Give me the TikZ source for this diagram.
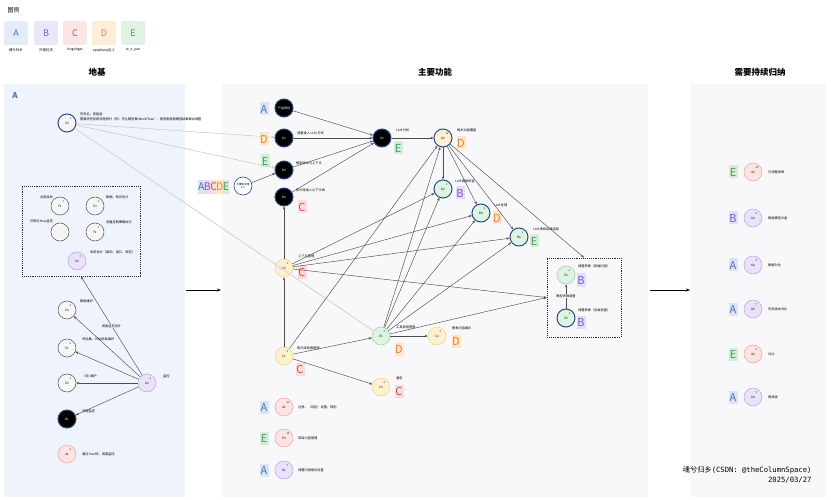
\documentclass[tikz,border=0pt]{standalone}
\usepackage{fontspec}
\setmainfont{Noto Sans CJK SC}
\setmonofont{DejaVu Sans Mono}
\newfontfamily\cjk{Noto Sans CJK SC}
\usepackage{tikz}
\usetikzlibrary{positioning, arrows.meta}
\definecolor{PanelBlue}{HTML}{EEF3FC}
\definecolor{PanelGray}{HTML}{F8F8FA}
\definecolor{HiBlue}{HTML}{2E4A86}
\definecolor{TagA}{HTML}{4A72C0}
\definecolor{TagABg}{HTML}{D9E4F7}
\definecolor{TagB}{HTML}{7A5BC8}
\definecolor{TagBBg}{HTML}{E3DDF8}
\definecolor{TagC}{HTML}{C94F4F}
\definecolor{TagCBg}{HTML}{FADCDC}
\definecolor{TagD}{HTML}{E0883A}
\definecolor{TagDBg}{HTML}{FDE5C8}
\definecolor{TagE}{HTML}{4C9A5E}
\definecolor{TagEBg}{HTML}{D3EDD8}
\definecolor{NdPink}{HTML}{FDE3E1}
\definecolor{NdPinkLine}{HTML}{F0A5A3}
\definecolor{NdPurple}{HTML}{E9E2FA}
\definecolor{NdPurpleLine}{HTML}{B7A5EA}
\definecolor{NdYellow}{HTML}{FFF1CF}
\definecolor{NdYellowLine}{HTML}{F2D38C}
\definecolor{NdGreen}{HTML}{DEF4E3}
\definecolor{NdGreenLine}{HTML}{98D1A5}
\definecolor{NdWhite}{HTML}{F6F6F6}
\definecolor{NdWhiteLine}{HTML}{555555}

\begin{document}
\begin{tikzpicture}[x=1pt, y=-1pt,
      nd/.style={circle, minimum size=18pt, inner sep=0pt, line width=0.5pt,
                 font=\fontsize{3}{3.5}\selectfont, align=center},
      cnode/.style={nd, fill=Nd#1, draw=Nd#1Line},
      bk/.style={nd, fill=black, draw=HiBlue, line width=1pt, text=white},
      hl/.style={draw=HiBlue, line width=1pt},
      num/.style={label={[font=\fontsize{2.5}{3}\selectfont, inner sep=0pt,
                 label distance=-5.5pt]50:#1}},
      tag/.style={rectangle, inner sep=0pt, minimum width=9pt, minimum height=13pt,
                  font=\fontsize{11}{11}\selectfont, fill=Tag#1Bg, text=Tag#1},
      legbox/.style={rectangle, rounded corners=2pt, minimum size=24pt,
                     font=\fontsize{9}{9}\selectfont},
      txt/.style={font=\fontsize{3.2}{3.8}\selectfont, anchor=west, inner sep=0pt},
      elab/.style={font=\fontsize{3.2}{3.8}\selectfont, inner sep=0.5pt, fill=PanelBlue},
      title/.style={font=\fontsize{8.5}{10}\selectfont\bfseries},
      dashbox/.style={rectangle, draw=black!85, densely dotted, line width=0.9pt},
      arr/.style={-{Stealth[length=3pt, width=2.4pt]}, draw=black!70, line width=0.45pt},
      farr/.style={-{Stealth[length=3pt, width=2.4pt]}, draw=gray!45, line width=0.5pt}
    ]
    \useasboundingbox (0,0) rectangle (831,500);

    % legend
    \node[font=\fontsize{6}{7}\selectfont, anchor=west] (legtitle) at (4,10) {图例};
    \foreach \ltr/\x/\who in {A/16/魂兮归乡, B/46/贝格拉夫, C/75/dogdogw,
                              D/104/epiphany巨人, E/133/w\_x\_yao}{
      \node[legbox, fill=Tag\ltr Bg!70, text=Tag\ltr] (leg\ltr) at (\x,33) {\ltr};
      \node[font=\fontsize{3.5}{4}\selectfont] (legname\ltr) at (\x,50) {\who};
    }

    % panels
    \fill[PanelBlue]  (4,84)   rectangle (185,497);
    \fill[PanelGray]  (222,84) rectangle (648,497);
    \fill[PanelGray]  (690,84) rectangle (826,497);
    \node[title] (tbase) at (97,72)  {地基};
    \node[title] (tmain) at (435,72) {主要功能};
    \node[title] (tmore) at (760,72) {需要持续归纳};
    \node[text=TagA, font=\fontsize{8}{8}\selectfont\bfseries] (pA) at (15,96) {A};

    \coordinate (lpr) at (186,290);
    \coordinate (mpl) at (221,290);
    \coordinate (mpr) at (650,290);
    \coordinate (rpl) at (690,290);
    \draw[-{Stealth[length=4pt]}, line width=0.6pt] (lpr) -- (mpl);
    \draw[-{Stealth[length=4pt]}, line width=0.6pt] (mpr) -- (rpl);

    % left panel
    \node[cnode=White, hl, num=1] (e3top) at (67,123) {E3};
    \node[txt] (te3top)  at (80,114) {任务名、技能组};
    \node[txt] (te3top2) at (80,119) {需要将任务按流程拆分（例：先让模型做 WorkFlow），使用者根据模型结果做出调整};

    \node[dashbox, minimum width=118pt, minimum height=90pt] (infra) at (81,231) {};
    \node[cnode=White, num=7] (f1)  at (60,206) {F1};
    \node[txt, anchor=east]   (tf1) at (53,197) {业务目标};
    \node[cnode=White, num=2] (e3b) at (95,206) {E3};
    \node[txt]                (te3b) at (106,197) {数据、知识设计};
    \node[cnode=White]        (blank) at (60,232) {};
    \node[txt, anchor=east]   (tblank) at (53,221) {可视化 Nuo监控};
    \node[cnode=White, num=2] (f2)  at (95,232) {F2};
    \node[txt]                (tf2) at (106,222) {流量控制策略执行};
    \node[cnode=Purple, num=7] (g3) at (77,261) {G3};
    \node[txt]                (tg3) at (90,252) {系统设计（架构、接口、规范）};

    \node[cnode=White, num=2] (e4)  at (67,310) {E4};
    \node[txt]                (te4) at (80,301) {数据维护};
    \node[cnode=White, num=2] (e1l) at (67,348) {E1};
    \node[txt]                (te1l) at (82,339) {评估集、评估标准维护};
    \node[cnode=White, num=2] (e2)  at (67,383) {E2};
    \node[txt]                (te2) at (84,376) {(日) 维护};
    \node[bk, num=4]          (b1)  at (67,419) {B1};
    \node[txt]                (tb1) at (82,411) {问题监控};
    \node[cnode=Pink, num=2]  (a1l) at (67,454) {A1};
    \node[txt]                (ta1l) at (82,454) {通过 low 码、调度监控};
    \node[cnode=Purple, num=2] (g2) at (147,383) {G2};
    \node[txt]                (tg2) at (163,376) {监控};

    \foreach \t in {e4,e1l,e2,b1}
      \draw[arr] (g2) -- (\t);
    \draw[arr] (g2) -- node[elab] (lbinfra) {调度监控设计} (infra.south);

    % main panel
    \node[bk]          (plan) at (284,108) {产品规划};
    \node[tag=A]       (tplan) at (264,109) {A};
    \node[bk, num=2]   (k3)   at (284,138) {K3};
    \node[tag=D]       (tk3)  at (264,139) {D};
    \node[txt]         (xk3)  at (297,133) {调整接入 LLM 方式};
    \node[bk, num=4]   (b4k)  at (284,170) {B4};
    \node[tag=E]       (tb4k) at (265,161) {E};
    \node[txt]         (xb4k) at (296,163) {模型版本与上下文};
    \node[bk, num=2]   (b6k)  at (284,197) {B6};
    \node[tag=C]       (tb6k) at (302,207) {C};
    \node[txt]         (xb6k) at (296,190) {知识库接入以下文档};

    \foreach \ltr [count=\i] in {A,B,C,D,E}
      \node[tag=\ltr, minimum width=6pt, minimum height=14pt, font=\fontsize{10.5}{10.5}\selectfont]
            (abc\i) at (195+6.2*\i,187) {\ltr};
    \node[nd, fill=white, draw=HiBlue, line width=0.6pt, font=\fontsize{2.6}{3}\selectfont]
          (app) at (243,186) {大模型应用\\2.1};

    \node[bk, num=4]   (k2)   at (382,138) {K2};
    \node[tag=E]       (tk2)  at (398,148) {E};
    \node[txt]         (xk2)  at (396,130) {LLM 分析};
    \node[cnode=Yellow, hl, num=12] (d0) at (443,138) {D0};
    \node[tag=D]       (td0)  at (461,143) {D};
    \node[txt]         (xd0)  at (457,130) {相关功能覆盖};
    \node[cnode=Green, hl, num=2] (d2)  at (443,189) {D2};
    \node[tag=B]       (td2)  at (460,193) {B};
    \node[txt]         (xd2)  at (455,181) {LLM 辅助检查};
    \node[cnode=Green, hl, num=2] (b4g) at (481,213) {B4};
    \node[tag=D]       (tb4g) at (497,218) {D};
    \node[txt]         (xb4g) at (494,205) {LLM 处理};
    \node[cnode=Green, hl, num=2] (b6g) at (519,237) {B6};
    \node[tag=E]       (tb6g) at (534,241) {E};
    \node[txt]         (xb6g) at (533,229) {LLM 审核结果返回};

    \node[cnode=Yellow, num=2] (c2)  at (284,268) {C2};
    \node[tag=C]       (tc2)  at (302,272) {C};
    \node[txt]         (xc2)  at (298,256) {上下文管理};
    \node[cnode=Yellow, num=2] (c1)  at (284,356) {C1};
    \node[tag=C]       (tc1)  at (300,369) {C};
    \node[txt]         (xc1)  at (297,348) {知识库检索管理};
    \node[cnode=Green, num=2]  (e1)  at (381,336) {E1};
    \node[tag=D]       (te1)  at (399,349) {D};
    \node[txt]         (xe1)  at (396,327) {工具调用管理};
    \node[cnode=Yellow, num=2] (c2b) at (437,336) {C2};
    \node[tag=D]       (tc2b) at (456,341) {D};
    \node[txt]         (xc2b) at (452,328) {图表内容展示};
    \node[cnode=Yellow, num=2] (c3)  at (381,387) {C3};
    \node[tag=C]       (tc3)  at (399,391) {C};
    \node[txt]         (xc3)  at (396,378) {通告};

    \node[cnode=Pink, num=12]  (a1m) at (284,407) {A1};
    \node[tag=A]       (ta1m) at (264,407) {A};
    \node[txt]         (xa1m) at (298,407) {注意、（设定）设置、规则};
    \node[cnode=Pink, num=12]  (e3m) at (284,438) {E3};
    \node[tag=E]       (te3m) at (264,438) {E};
    \node[txt]         (xe3m) at (298,438) {项目内容管理};
    \node[cnode=Purple, num=7] (g1)  at (284,470) {G1};
    \node[tag=A]       (tg1)  at (264,470) {A};
    \node[txt]         (xg1)  at (298,470) {调整内容格式设置};

    \node[dashbox, minimum width=74pt, minimum height=79pt, fill=PanelGray] (tune) at (584,297.5) {};
    \node[cnode=Green, num=2]     (e3r1) at (566,275) {E3};
    \node[tag=B]       (te3r1) at (581,280) {B};
    \node[txt]         (xe3r1) at (578,266) {调整参数（前端内容）};
    \node[cnode=Green, hl, num=2] (e3r2) at (566,318) {E3};
    \node[tag=B]       (te3r2) at (581,322) {B};
    \node[txt]         (xe3r2) at (578,310) {调整参数（后端设置）};
    \draw[arr] (e3r2) -- node[elab, fill=PanelGray] (lbtune) {模型参数调整} (e3r1);

    \draw[farr] (e3top) -- (k3);
    \draw[farr] (e3top) -- (b4k);
    \draw[farr, draw=gray!30, line width=1pt] (e3top) -- (e1);

    \foreach \s in {plan,k3,b4k,b6k}
      \draw[arr] (\s) -- (k2);
    \draw[arr] (app) -- (b4k);
    \draw[arr] (k2) -- (d0);
    \foreach \t in {d2,b4g,b6g,tune.north}
      \draw[arr] (d0) -- (\t);
    \draw[arr] (c1) -- (c2);
    \draw[arr] (c2) -- (b6k);
    \draw[arr] (c1) -- (e1);
    \draw[arr] (c1) -- (c3);
    \draw[arr] (e1) -- (c2b);
    \draw[arr] (c1) -- (d0);
    \foreach \t in {d2,b4g,b6g,tune.west}
      \draw[arr] (c2) -- (\t);
    \foreach \t in {d0,d2,b4g,b6g,tune.west}
      \draw[arr] (e1) -- (\t);

    % right panel
    \foreach \y/\st/\tg/\nm/\n/\tx [count=\i] in {172/Pink/E/A3/12/已调整规律,
        218/Purple/B/G4/2/数据模型沙盒, 265/Purple/A/G6/2/数据对比,
        309/Purple/A/G5/7/历史版本对比, 354/Pink/E/A2/2/对比, 397/Purple/A/G4/7/再改版}{
      \node[cnode=\st, num=\n] (r\i)  at (753,\y) {\nm};
      \node[tag=\tg]           (rt\i) at (733,\y) {\tg};
      \node[txt]               (rx\i) at (768,\y) {\tx};
    }

    \node[anchor=east, font=\fontsize{7.2}{8}\selectfont] (sign) at (815,470)
          {{\cjk 魂兮归乡}\ttfamily(CSDN: @theColumnSpace)};
    \node[anchor=east, font=\fontsize{7.2}{8}\selectfont\ttfamily] (date) at (815,480) {2025/03/27};
  \end{tikzpicture}
\end{document}
